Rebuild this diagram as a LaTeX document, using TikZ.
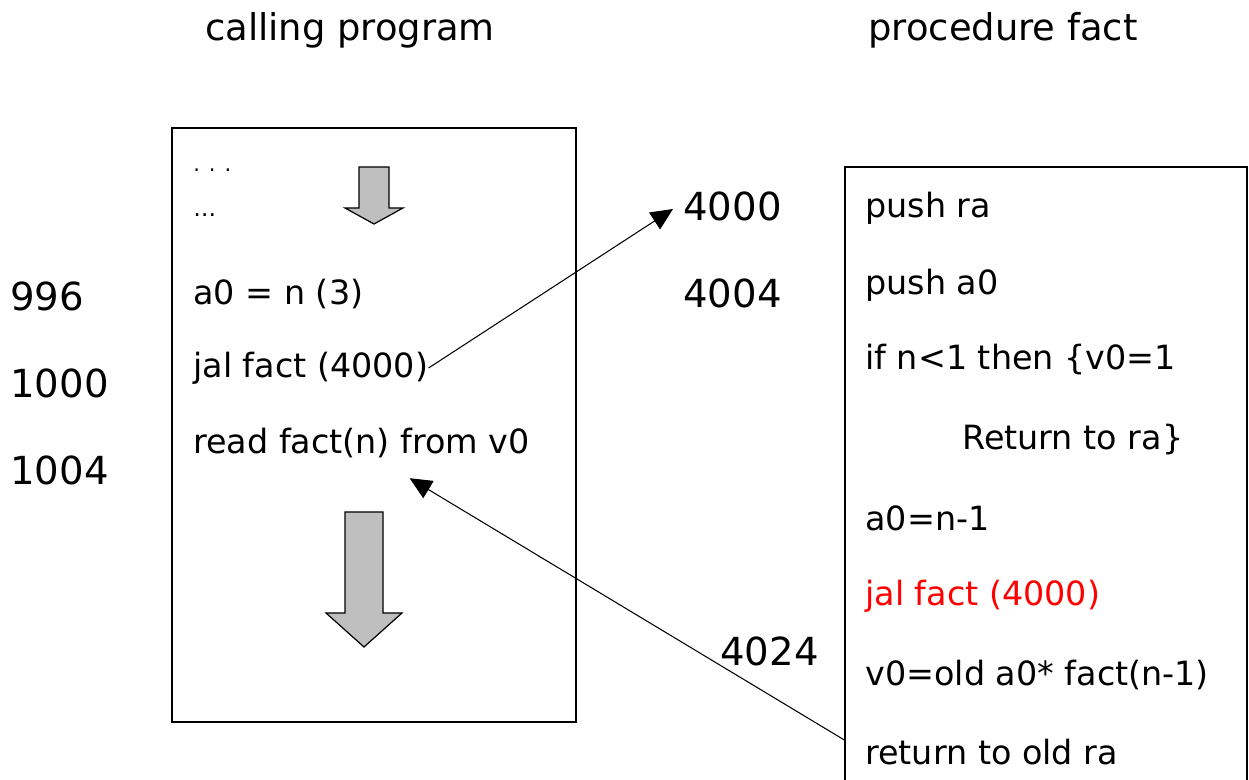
\documentclass[tikz,border=0pt]{standalone}
\usepackage{fontspec}
\setmainfont{DejaVu Sans}
\usepackage{xcolor}
\usetikzlibrary{arrows.meta,calc,positioning}
\tikzset{
  title/.style={font=\fontsize{21}{24}\selectfont, inner sep=0pt},
  code/.style={font=\fontsize{19}{22}\selectfont, anchor=west, inner sep=0pt},
  addr/.style={font=\fontsize{22}{24}\selectfont, anchor=west, inner sep=0pt},
  frame/.style={draw, line width=0.8pt, fill=white},
  bigarrow/.style={draw, line width=0.7pt, fill=gray!50},
  call/.style={-{Triangle[length=4.4mm, width=4mm]}, line width=0.6pt}
}

\begin{document}
\begin{tikzpicture}[x=0.02cm,y=-0.02cm]
  \useasboundingbox (0,0) rectangle (1249,780);

  \node[title] (tcall) at (350,30) {calling program};
  \node[title] (tproc) at (1003,30) {procedure fact};

  % calling program
  \node[frame, minimum width=8.08cm, minimum height=11.88cm] (main) at (374,425) {};
  \node[code, font=\fontsize{12}{14}\selectfont] (dots1) at (193,170) {. . .};
  \node[code, font=\fontsize{13}{14}\selectfont] (dots2) at (193,215) {\dots};
  \node[code] (seta) at (193,294) {a0 = n (3)};
  \node[code] (jal) at (193,368) {jal fact (4000)};
  \node[code] (read) at (193,443) {read fact(n) from v0};

  \draw[bigarrow] (359,167) -- (389,167) -- (389,208) -- (403,208) -- (374,224)
    -- (345,208) -- (359,208) -- cycle;
  \draw[bigarrow] (345,512) -- (383,512) -- (383,613) -- (402,613) -- (364,647)
    -- (326,613) -- (345,613) -- cycle;

  \node[addr] (a996) at (10,296) {996};
  \node[addr] (a1000) at (10,383) {1000};
  \node[addr] (a1004) at (10,470) {1004};

  % procedure fact
  \node[frame, minimum width=8.04cm, minimum height=12.8cm] (proc) at (1046,487) {};
  \node[code] (p1) at (865,208) {push ra};
  \node[code] (p2) at (865,285) {push a0};
  \node[code] (p3) at (865,360) {if n<1 then \{v0=1};
  \node[code] (p4) at (962,440) {Return to ra\}};
  \node[code] (p5) at (865,518) {a0=n-1};
  \node[code, text=red] (p6) at (865,596) {jal fact (4000)};
  \node[code] (p7) at (865,675) {v0=old a0* fact(n-1)};
  \node[code] (p8) at (865,752) {return to old ra};

  \node[addr] (a4000) at (683,206) {4000};
  \node[addr] (a4004) at (683,293) {4004};
  \node[addr] (a4024) at (720,651) {4024};

  \draw[call] (jal.east) -- ($(a4000.west)+(-10,3)$);
  \draw[call] ($(proc.west |- p8)+(0,-12)$) -- ($(read.south)+(48,20)$);
\end{tikzpicture}
\end{document}
